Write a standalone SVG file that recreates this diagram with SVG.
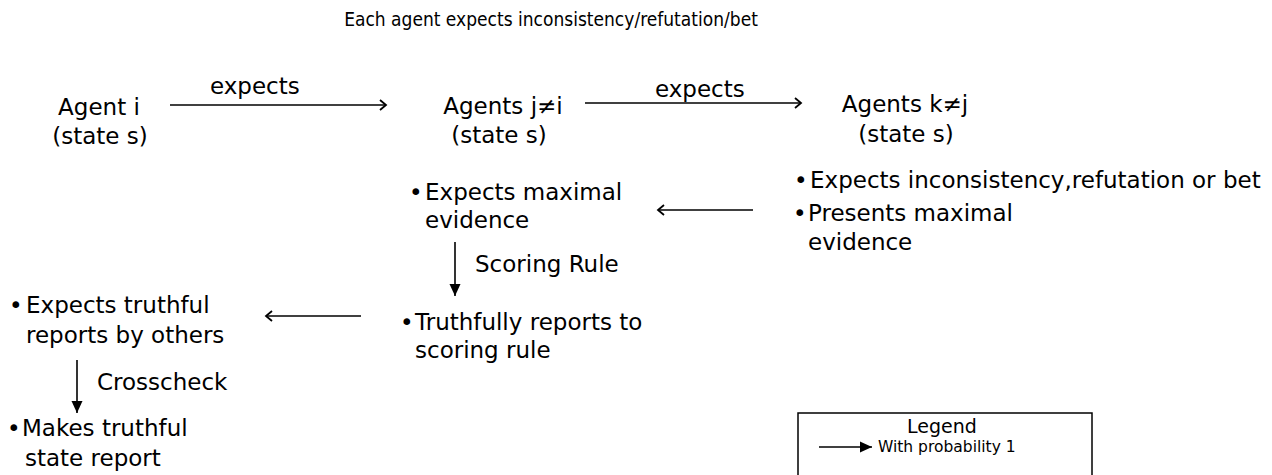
<svg xmlns="http://www.w3.org/2000/svg" width="1272" height="475" viewBox="0 0 1272 475">
<defs>
<style>
text{font-family:"DejaVu Sans","Verdana",sans-serif;font-size:23px;fill:#000}
.title{font-family:"DejaVu Sans Condensed","DejaVu Sans",sans-serif;font-size:19px}
.c{text-anchor:middle}
.line{stroke:#000;stroke-width:1.6;fill:none}
.open{marker-end:url(#openHead)}
.filled{marker-end:url(#fillHead)}
.leg{font-size:19px}
.legs{font-size:15.5px}
</style>
<marker id="openHead" markerWidth="12" markerHeight="12" refX="9" refY="6" orient="auto" markerUnits="userSpaceOnUse">
<path d="M3,1 L9,6 L3,11" fill="none" stroke="#000" stroke-width="1.8"/>
</marker>
<marker id="fillHead" markerWidth="14" markerHeight="14" refX="12" refY="7" orient="auto" markerUnits="userSpaceOnUse">
<path d="M0,1.5 L12,7 L0,12.5 Z" fill="#000"/>
</marker>
</defs>
<rect width="1272" height="475" fill="#fff"/>
<text class="title c" x="551" y="26">Each agent expects inconsistency/refutation/bet</text>

<g id="connectors">
<line class="line open" x1="170" y1="105" x2="386" y2="105"/>
<line class="line open" x1="585" y1="103" x2="801" y2="103"/>
<line class="line open" x1="753" y1="210" x2="658" y2="210"/>
<line class="line open" x1="361" y1="316" x2="266" y2="316"/>
<line class="line filled" x1="455" y1="242" x2="455" y2="296"/>
<line class="line filled" x1="77" y1="360" x2="77" y2="413"/>
<text x="210" y="94">expects</text>
<text x="655" y="97">expects</text>
<text x="475" y="272">Scoring Rule</text>
<text x="97" y="390">Crosscheck</text>
</g>

<g id="agent-i">
<text class="c" x="99" y="115">Agent i</text>
<text class="c" x="100" y="144">(state s)</text>
</g>

<g id="agents-j">
<text class="c" x="503" y="114">Agents j≠i</text>
<text class="c" x="499" y="143">(state s)</text>
</g>

<g id="agents-k">
<text class="c" x="905" y="112">Agents k≠j</text>
<text class="c" x="906" y="142">(state s)</text>
</g>

<g id="k-actions">
<text x="794" y="188">•</text>
<text x="810" y="188">Expects inconsistency,refutation or bet</text>
<text x="793" y="221">•</text>
<text x="808" y="221">Presents maximal</text>
<text x="808" y="250">evidence</text>
</g>

<g id="j-expects">
<text x="409" y="200">•</text>
<text x="425" y="200">Expects maximal</text>
<text x="425" y="228">evidence</text>
</g>

<g id="j-reports">
<text x="400" y="330">•</text>
<text x="415" y="330">Truthfully reports to</text>
<text x="415" y="358">scoring rule</text>
</g>

<g id="i-expects">
<text x="9" y="313">•</text>
<text x="26" y="313">Expects truthful</text>
<text x="26" y="343">reports by others</text>
</g>

<g id="i-makes">
<text x="7" y="436">•</text>
<text x="22" y="436">Makes truthful</text>
<text x="25" y="466">state report</text>
</g>

<g id="legend">
<rect x="798" y="413" width="294" height="70" fill="#fff" stroke="#000" stroke-width="1.5"/>
<text class="leg c" x="942" y="433">Legend</text>
<line class="line filled" x1="819" y1="447" x2="872" y2="447"/>
<text class="legs" x="878" y="452">With probability 1</text>
</g>
</svg>
